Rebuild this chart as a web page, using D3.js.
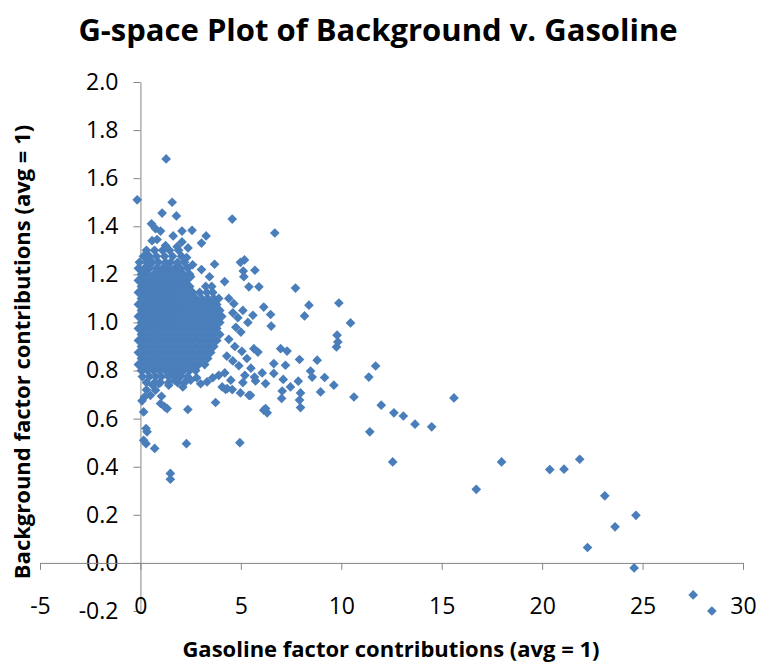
<!DOCTYPE html>
<html>
<head>
<meta charset="utf-8">
<script src="https://cdn.jsdelivr.net/npm/d3@7"></script>
<style>
  body { margin: 0; background: #fff; }
  svg text { font-family: "Open Sans", sans-serif; fill: #000; }
</style>
</head>
<body>
<svg class="gspace" width="759" height="663"></svg>
<script>
const xTicks = [-5, 0, 5, 10, 15, 20, 25, 30]
const yTicks = [-0.2, 0, 0.2, 0.4, 0.6, 0.8, 1.0, 1.2, 1.4, 1.6, 1.8, 2.0]

// dense cluster near the origin, read row by row: [background, [gasoline...]]
const clusterRows = [
  [1.300, [0.3, 0.7, 1.1, 1.45, 1.9]],
  [1.275, [0.15, 0.45, 0.8, 1.2, 1.6, 2.05]],
  [1.250, [-0.05, 0.3, 0.6, 0.9, 1.25, 1.5, 1.85, 2.2]],
  [1.225, [-0.1, 0.2, 0.45, 0.8, 1.1, 1.4, 1.7, 2.0, 2.35]],
  [1.200, [0.05, 0.35, 0.65, 0.95, 1.25, 1.55, 1.85, 2.15, 2.45]],
  [1.175, [-0.1, 0.2, 0.5, 0.8, 1.1, 1.4, 1.7, 2.0, 2.3]],
  [1.150, [0.05, 0.35, 0.65, 0.95, 1.25, 1.55, 1.85, 2.15, 2.45, 3.25, 3.55]],
  [1.125, [-0.1, 0.2, 0.5, 0.8, 1.1, 1.4, 1.7, 2.0, 2.3, 2.6, 2.95, 3.3, 3.6]],
  [1.100, [0.05, 0.35, 0.65, 0.95, 1.25, 1.55, 1.85, 2.15, 2.45, 2.75, 3.05, 3.35, 3.65, 3.9]],
  [1.075, [-0.1, 0.2, 0.5, 0.8, 1.1, 1.4, 1.7, 2.0, 2.3, 2.6, 2.9, 3.2, 3.5, 3.8]],
  [1.050, [0.05, 0.35, 0.65, 0.95, 1.25, 1.55, 1.85, 2.15, 2.45, 2.75, 3.05, 3.35, 3.65, 3.95]],
  [1.025, [-0.1, 0.2, 0.5, 0.8, 1.1, 1.4, 1.7, 2.0, 2.3, 2.6, 2.9, 3.2, 3.5, 3.8, 4.05]],
  [1.000, [0.05, 0.35, 0.65, 0.95, 1.25, 1.55, 1.85, 2.15, 2.45, 2.75, 3.05, 3.35, 3.65, 3.95]],
  [0.975, [-0.1, 0.2, 0.5, 0.8, 1.1, 1.4, 1.7, 2.0, 2.3, 2.6, 2.9, 3.2, 3.5, 3.8]],
  [0.950, [0.05, 0.35, 0.65, 0.95, 1.25, 1.55, 1.85, 2.15, 2.45, 2.75, 3.05, 3.35, 3.65, 3.95]],
  [0.925, [-0.1, 0.2, 0.5, 0.8, 1.1, 1.4, 1.7, 2.0, 2.3, 2.6, 2.9, 3.2, 3.5, 3.8]],
  [0.900, [0.05, 0.35, 0.65, 0.95, 1.25, 1.55, 1.85, 2.15, 2.45, 2.75, 3.05, 3.35, 3.65]],
  [0.875, [-0.1, 0.2, 0.5, 0.8, 1.1, 1.4, 1.7, 2.0, 2.3, 2.6, 2.9, 3.2, 3.5]],
  [0.850, [0.05, 0.35, 0.65, 0.95, 1.25, 1.55, 1.85, 2.15, 2.45, 2.75, 3.05, 3.35]],
  [0.825, [-0.1, 0.2, 0.5, 0.8, 1.1, 1.4, 1.7, 2.0, 2.3, 2.6, 2.9, 3.2]],
  [0.800, [0.05, 0.35, 0.65, 0.95, 1.25, 1.55, 1.85, 2.15, 2.45, 2.75]],
  [0.775, [0.1, 0.45, 0.75, 1.05, 1.4, 1.7, 2.0, 2.35]],
  [0.750, [0.3, 0.7, 1.0, 1.4, 1.85, 2.2]]
]

// scattered points around and away from the cluster: [gasoline, background]
const scatterPoints = [
  [-0.16, 1.51], [1.28, 1.68], [1.58, 1.50], [1.08, 1.455], [1.79, 1.443], [4.57, 1.43],
  [0.55, 1.41], [0.75, 1.39], [1.0, 1.38], [2.07, 1.38], [2.57, 1.383], [3.27, 1.36],
  [1.63, 1.36], [0.58, 1.34], [0.83, 1.345], [3.04, 1.33], [2.07, 1.335], [2.37, 1.31],
  [1.83, 1.315], [1.25, 1.32], [6.69, 1.372], [2.3, 1.27], [2.6, 1.24], [2.5, 1.19],
  [3.69, 1.242], [4.98, 1.25], [5.18, 1.26], [5.12, 1.214], [5.7, 1.217], [5.15, 1.19],
  [3.04, 1.22], [3.44, 1.19], [4.19, 1.17], [5.4, 1.148], [5.9, 1.148], [7.72, 1.143],
  [4.65, 1.078], [4.6, 1.04], [4.85, 1.02], [5.1, 1.05], [5.35, 1.0], [5.6, 1.03],
  [4.4, 1.1], [4.75, 0.98], [5.0, 0.96], [4.4, 0.93], [4.7, 0.90], [5.05, 0.88],
  [5.65, 0.891], [5.85, 0.877], [4.3, 0.86], [4.6, 0.84], [4.9, 0.82], [5.3, 0.85],
  [5.5, 0.81], [5.73, 0.757], [5.68, 0.773], [4.32, 0.725], [4.98, 0.707], [5.48, 0.697],
  [4.07, 0.732], [4.24, 0.722], [4.57, 0.721], [5.4, 0.697], [3.32, 0.753], [3.6, 0.77],
  [3.9, 0.78], [4.2, 0.79], [4.5, 0.76], [5.1, 0.75], [5.2, 0.78], [6.14, 0.635],
  [6.14, 1.064], [6.48, 1.033], [6.51, 0.985], [8.17, 1.027], [8.39, 1.072], [9.88, 1.081],
  [10.46, 0.998], [9.79, 0.947], [9.83, 0.919], [9.76, 0.898], [6.98, 0.891], [7.3, 0.881],
  [7.92, 0.846], [8.8, 0.843], [6.64, 0.829], [7.22, 0.822], [8.47, 0.798], [6.06, 0.79],
  [6.64, 0.788], [8.55, 0.773], [9.17, 0.771], [7.86, 0.756], [7.11, 0.763], [9.63, 0.739],
  [6.23, 0.746], [7.47, 0.732], [8.97, 0.711], [7.97, 0.707], [7.06, 0.715], [7.03, 0.684],
  [7.92, 0.677], [7.97, 0.646], [6.23, 0.642], [6.31, 0.624], [10.63, 0.69], [4.95, 0.5],
  [11.71, 0.819], [11.37, 0.773], [11.99, 0.656], [12.62, 0.624], [13.09, 0.611], [13.67, 0.577],
  [14.5, 0.566], [15.61, 0.686], [11.42, 0.545], [12.56, 0.42], [17.98, 0.42], [16.72, 0.306],
  [20.38, 0.388], [21.09, 0.39], [21.87, 0.431], [23.12, 0.279], [24.67, 0.198], [23.63, 0.15],
  [22.26, 0.064], [24.58, -0.021], [27.52, -0.133], [28.45, -0.2],
  [2.11, 0.732], [3.74, 0.667], [2.36, 0.638], [0.16, 0.628], [0.28, 0.559], [0.33, 0.545],
  [0.16, 0.51], [0.28, 0.496], [0.71, 0.476], [2.29, 0.496], [1.49, 0.372], [1.49, 0.348],
  [0.08, 0.674], [0.5, 0.697], [1.0, 0.663], [1.21, 0.649], [1.33, 0.642], [1.05, 0.693],
  [0.75, 0.718], [0.91, 0.746], [1.41, 0.739], [0.08, 0.80], [0.3, 0.72], [0.2, 0.69],
  [0.6, 0.74], [1.7, 0.76], [2.5, 0.76], [2.8, 0.77], [3.0, 0.745]
]

const points = clusterRows
  .flatMap(([yv, xs]) => xs.map(xv => [xv, yv]))
  .concat(scatterPoints)

const svg = d3.select('svg.gspace')

const xScale = d3.scaleLinear().domain([-5, 30]).range([40, 743])
const yScale = d3.scaleLinear().domain([-0.2, 2.0]).range([611, 82])

// y axis sits on x = 0
const yAxis = svg.append('g')
  .attr('transform', `translate(${xScale(0)}, 0)`)
  .call(d3.axisLeft(yScale)
    .tickValues(yTicks)
    .tickSize(7)
    .tickSizeOuter(0)
    .tickPadding(15)
    .tickFormat(d => d.toFixed(1)))
yAxis.selectAll('text').style('font-size', '23px')

// x axis sits on y = 0, labels pushed down to the bottom
const xAxis = svg.append('g')
  .attr('transform', `translate(0, ${yScale(0)})`)
  .call(d3.axisBottom(xScale)
    .tickValues(xTicks)
    .tickSize(7)
    .tickSizeOuter(0)
    .tickPadding(28)
    .tickFormat(d => String(d)))
xAxis.selectAll('text').style('font-size', '23px')

svg.selectAll('.domain, .tick line').attr('stroke', '#868686')

// markers
svg.append('g')
  .selectAll('path')
  .data(points)
  .enter()
  .append('path')
  .attr('d', d3.symbol(d3.symbolSquare, 47))
  .attr('transform', d => `translate(${xScale(d[0])}, ${yScale(d[1])}) rotate(45)`)
  .style('fill', '#4a7ebb')

// title
svg.append('text')
  .attr('x', 378)
  .attr('y', 41)
  .attr('text-anchor', 'middle')
  .style('font-size', '31px')
  .style('font-weight', 'bold')
  .text('G-space Plot of Background v. Gasoline')

// axis titles
svg.append('text')
  .attr('x', 391)
  .attr('y', 657)
  .attr('text-anchor', 'middle')
  .style('font-size', '22px')
  .style('font-weight', 'bold')
  .text('Gasoline factor contributions (avg = 1)')

svg.append('text')
  .attr('transform', 'translate(30, 352) rotate(-90)')
  .attr('text-anchor', 'middle')
  .style('font-size', '22px')
  .style('font-weight', 'bold')
  .text('Background factor contributions (avg = 1)')
</script>
</body>
</html>
